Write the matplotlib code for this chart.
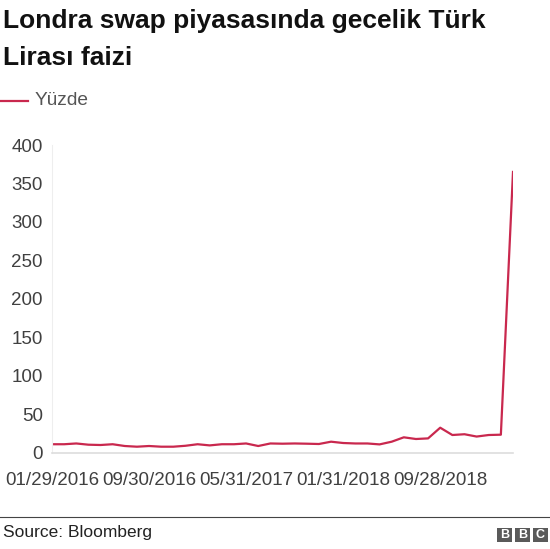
import matplotlib
matplotlib.use('Agg')
import matplotlib.pyplot as plt
from matplotlib.patches import Rectangle

plt.rcParams['font.family'] = ['Liberation Sans', 'DejaVu Sans']

# aylık gözlemler, 01/2016 - 03/2019
dates = ['01/29/2016', '02/29/2016', '03/31/2016', '04/29/2016', '05/31/2016',
         '06/30/2016', '07/29/2016', '08/31/2016', '09/30/2016', '10/31/2016',
         '11/30/2016', '12/30/2016', '01/31/2017', '02/28/2017', '03/31/2017',
         '04/28/2017', '05/31/2017', '06/30/2017', '07/31/2017', '08/31/2017',
         '09/29/2017', '10/31/2017', '11/30/2017', '12/29/2017', '01/31/2018',
         '02/28/2018', '03/30/2018', '04/30/2018', '05/31/2018', '06/29/2018',
         '07/31/2018', '08/31/2018', '09/28/2018', '10/31/2018', '11/30/2018',
         '12/31/2018', '01/31/2019', '02/28/2019', '03/27/2019']
yuzde = [11, 11, 12, 10.4, 10, 11, 8.7, 7.8, 8.7, 7.8,
         7.8, 9, 11, 9.5, 11, 11, 12, 8.7, 12, 11.7,
         12, 11.7, 11.3, 14.3, 12.6, 12, 12, 10.8, 14.3, 20,
         17.8, 18.6, 32.5, 23, 24, 21, 23, 23.4, 365]
tick_labels = ['01/29/2016', '09/30/2016', '05/31/2017', '01/31/2018', '09/28/2018']
yticks = [0, 50, 100, 150, 200, 250, 300, 350, 400]

red = '#C9284E'
grey = '#404040'

fig = plt.figure(figsize=(5.5, 5.49), dpi=100)
ax = fig.add_axes([52/550, 1 - 452.7/549, 461/550, 307.7/549])

x = list(range(len(dates)))
ax.plot(x, yuzde, color=red, linewidth=1.6, solid_joinstyle='round')

ax.set_xlim(0, len(dates) - 1)
ax.set_ylim(0, 400)
ax.set_yticks(yticks)
ax.set_xticks([dates.index(d) for d in tick_labels])
ax.set_xticklabels(tick_labels)
ax.tick_params(length=0, labelsize=13.5, colors=grey)
ax.tick_params(axis='x', pad=14)
ax.tick_params(axis='y', pad=6.5)
for s in ['top', 'right']:
    ax.spines[s].set_visible(False)
ax.spines['left'].set_color('#eeeeee')
ax.spines['bottom'].set_color('#dddddd')
ax.spines['bottom'].set_linewidth(1.2)

fig.text(0.005, 1 - 28/549, 'Londra swap piyasasında gecelik Türk', fontsize=19,
         fontweight='bold', color='#111111', va='baseline')
fig.text(0.005, 1 - 65/549, 'Lirası faizi', fontsize=19,
         fontweight='bold', color='#111111', va='baseline')

# lejant
fig.add_artist(plt.Line2D([0, 28/550], [1 - 100.5/549] * 2, color=red, linewidth=1.6))
fig.text(35/550, 1 - 100.5/549, 'Yüzde', fontsize=13.8, color='#555555', va='center')

# alt bilgi
fig.add_artist(plt.Line2D([0, 1], [1 - 516.5/549] * 2, color='#444444', linewidth=0.8))
fig.text(0.005, 1 - 533/549, 'Source: Bloomberg', fontsize=12.5, color='#222222', va='center')
for i, ch in enumerate('BBC'):
    x0 = 497 + i * 18
    fig.add_artist(Rectangle((x0/550, 1 - 542/549), 15/550, 14/549,
                             facecolor='#5a5a5a', edgecolor='none'))
    fig.text((x0 + 7.5)/550, 1 - 535/549, ch, fontsize=9, fontweight='bold',
             color='white', ha='center', va='center')

fig.savefig('out.png', dpi=100)
